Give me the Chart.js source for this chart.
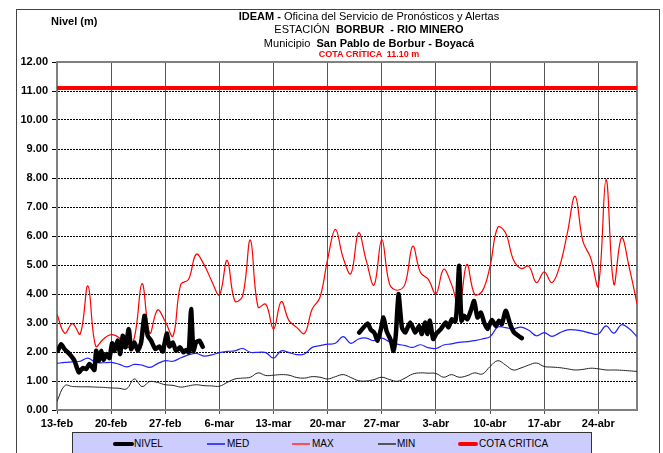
<!DOCTYPE html>
<html>
<head>
<meta charset="utf-8">
<script src="https://cdn.jsdelivr.net/npm/chart.js@4.4.1/dist/chart.umd.min.js"></script>
<style>
  body { margin: 0; background: #fff; font-family: "Liberation Sans", Arial, sans-serif; }
  #wrap { position: relative; width: 663px; height: 453px; overflow: hidden; }
  #marco { position: absolute; left: 16px; top: 9px; width: 644px; height: 470px; border: 1px solid #444; box-sizing: border-box; }
  #grafico { position: absolute; left: 0; top: 0; }
  .t { position: absolute; left: 169px; width: 400px; text-align: center; white-space: pre; color: #000; }
  #ylab { position: absolute; left: 51px; top: 15px; font-size: 11px; font-weight: bold; }
  #leyenda { position: absolute; left: 72px; top: 432px; width: 520px; height: 30px; background: #ccccff; border: 1px solid #333; box-sizing: border-box; }
  .lin { position: absolute; }
  .lt { position: absolute; top: 438px; font-size: 10px; line-height: 12px; }
</style>
</head>
<body>
<div id="wrap">
  <div id="marco"></div>
  <canvas id="grafico" width="663" height="453"></canvas>
  <div id="ylab">Nivel (m)</div>
  <div class="t" style="top:10px;font-size:11px;line-height:13px;"><b>IDEAM -</b> Oficina del Servicio de Pronósticos y Alertas</div>
  <div class="t" style="top:23px;font-size:11px;line-height:13px;">ESTACIÓN  <b>BORBUR  - RIO MINERO</b></div>
  <div class="t" style="top:37px;font-size:11px;line-height:13px;">Municipio  <b>San Pablo de Borbur - Boyacá</b></div>
  <div class="t" style="top:49px;font-size:9px;line-height:11px;color:#ff0000;font-weight:bold;">COTA CRÍTICA  11.10 m</div>
  <div id="leyenda"></div>
  <div class="lin" style="left:113px;top:442px;width:21px;height:4px;background:#000;border-radius:2px;"></div>
  <div class="lt" style="left:134px;">NIVEL</div>
  <div class="lin" style="left:207px;top:443px;width:18px;height:2px;background:#4444ff;"></div>
  <div class="lt" style="left:227px;">MED</div>
  <div class="lin" style="left:292px;top:443px;width:18px;height:2px;background:#ff5050;"></div>
  <div class="lt" style="left:312px;">MAX</div>
  <div class="lin" style="left:378px;top:443px;width:18px;height:2px;background:#555;"></div>
  <div class="lt" style="left:397px;">MIN</div>
  <div class="lin" style="left:458px;top:442px;width:20px;height:4px;background:#ff0000;border-radius:2px;"></div>
  <div class="lt" style="left:479px;">COTA CRITICA</div>
</div>
<script>
// ejes
const fechasEje = ['13-feb', '20-feb', '27-feb', '6-mar', '13-mar', '20-mar', '27-mar', '3-abr', '10-abr', '17-abr', '24-abr'];
const diasEje = [0, 7, 14, 21, 28, 35, 42, 49, 56, 63, 70];
const diaFinal = 75;
const cotaCritica = 11.10;

// series diarias (dia 0 = 13-feb)
const maxDiario = [3.30, 2.65, 2.98, 2.62, 4.28, 2.20, 2.45, 2.60, 2.50, 2.14,
  2.49, 4.36, 2.65, 3.45, 3.05, 2.55, 4.33, 4.50, 5.37, 5.02,
  4.45, 3.97, 5.16, 3.76, 3.93, 5.86, 3.55, 3.65, 2.79, 3.74,
  3.08, 2.85, 2.64, 3.48, 3.88, 5.20, 6.23, 5.25, 4.70, 6.11,
  5.14, 4.31, 5.88, 4.34, 4.13, 4.34, 5.65, 4.74, 4.51, 4.01,
  4.85, 4.34, 3.59, 5.02, 3.99, 4.10, 4.96, 6.30, 6.11, 5.19,
  4.88, 4.96, 4.39, 4.76, 4.39, 4.96, 6.11, 7.37, 5.82, 5.25,
  4.28, 7.95, 4.34, 5.94, 4.91, 3.67];
const medDiario = [1.61, 1.64, 1.66, 1.68, 1.79, 1.64, 1.63, 1.64, 1.58, 1.49,
  1.57, 1.55, 1.47, 1.60, 1.70, 1.68, 1.80, 1.90, 1.95, 1.86,
  1.90, 1.98, 2.02, 2.04, 2.12, 1.99, 1.99, 1.98, 1.79, 2.04,
  1.98, 1.91, 1.93, 2.16, 2.22, 2.27, 2.30, 2.53, 2.30, 2.45,
  2.48, 2.39, 2.48, 2.35, 2.27, 2.22, 2.16, 2.25, 2.15, 2.12,
  2.24, 2.28, 2.33, 2.36, 2.39, 2.45, 2.53, 2.86, 2.84, 2.80,
  2.86, 2.75, 2.56, 2.67, 2.54, 2.66, 2.76, 2.76, 2.72, 2.65,
  2.62, 2.90, 2.65, 2.94, 2.80, 2.53];
const minDiario = [0.30, 0.84, 0.81, 0.80, 0.80, 0.79, 0.78, 0.76, 0.75, 0.73,
  1.07, 0.81, 0.98, 0.95, 0.87, 0.85, 0.79, 0.83, 0.87, 0.84,
  0.83, 0.82, 0.95, 1.07, 1.10, 1.13, 1.28, 1.19, 1.20, 1.22,
  1.20, 1.12, 1.10, 1.15, 1.13, 1.07, 1.15, 1.22, 1.12, 1.01,
  1.00, 1.05, 1.13, 1.05, 0.99, 1.10, 1.24, 1.28, 1.27, 1.26,
  1.13, 1.22, 1.13, 1.18, 1.28, 1.24, 1.50, 1.70, 1.55, 1.38,
  1.45, 1.55, 1.62, 1.50, 1.48, 1.46, 1.42, 1.38, 1.40, 1.44,
  1.42, 1.38, 1.38, 1.37, 1.35, 1.33];

// nivel observado (varias lecturas por dia, con un hueco sin datos)
const nivelDias = [0.10, 0.54, 0.97, 1.61, 2.26, 2.82, 3.33, 3.77, 4.20, 4.55,
  4.84, 5.06, 5.40, 5.71, 6.01, 6.43, 6.78, 7.13, 7.43, 7.86,
  8.17, 8.50, 8.85, 9.28, 9.59, 10.01, 10.44, 10.88, 11.30, 11.73,
  12.17, 12.73, 13.24, 13.67, 14.19, 14.53, 14.96, 15.40, 15.92, 16.34,
  16.69, 17.03, 17.34, 17.64, 17.98, 18.41, 18.84,
  29.00,
  39.08, 40.16, 40.59, 41.02, 41.45, 41.89, 42.22, 42.61, 43.18, 43.51,
  43.82, 44.16, 44.60, 45.03, 45.67, 46.32, 46.83, 47.18, 47.61, 47.91,
  48.22, 48.64, 49.07, 49.64, 50.28, 50.62, 51.06, 51.49, 51.71, 52.00,
  52.30, 52.65, 53.07, 53.51, 53.94, 54.37, 54.81, 55.23, 55.66, 56.23,
  56.74, 57.17, 57.52, 58.03, 58.59, 59.11, 60.10];
const nivelValores = [2.04, 2.27, 2.10, 1.93, 1.70, 1.30, 1.45, 1.41, 1.59, 1.47,
  1.38, 2.04, 1.70, 2.04, 1.73, 1.93, 1.79, 2.30, 2.04, 2.39,
  1.93, 2.56, 2.16, 2.79, 2.10, 2.33, 2.04, 2.33, 3.25, 2.56,
  2.39, 2.10, 2.19, 2.02, 2.64, 2.19, 2.33, 2.04, 2.16, 1.99,
  2.07, 1.99, 3.48, 2.04, 2.33, 2.39, 2.18,
  null,
  2.67, 2.98, 2.76, 2.67, 2.39, 2.79, 3.19, 2.73, 2.39, 2.04,
  2.62, 4.00, 2.85, 2.67, 3.02, 2.67, 2.90, 2.62, 3.02, 2.62,
  3.08, 2.45, 2.64, 2.79, 3.02, 2.85, 3.13, 3.05, 3.53, 4.97,
  3.08, 3.25, 3.13, 3.42, 3.76, 3.19, 3.36, 3.02, 2.79, 3.10,
  2.90, 3.08, 2.96, 3.42, 2.96, 2.67, 2.48];

const fuente = '"Liberation Sans", Arial, sans-serif';
const diario = arr => arr.map((v, i) => ({ x: i, y: v }));
const nivelPts = nivelDias.map((d, i) => ({ x: d, y: nivelValores[i] }));

// borde gris arriba y a la derecha del area de trazado
const marcoPlot = {
  id: 'marcoPlot',
  beforeDatasetsDraw(chart) {
    const a = chart.chartArea, c = chart.ctx;
    c.save();
    c.strokeStyle = '#808080';
    c.lineWidth = 2;
    c.beginPath();
    c.moveTo(a.left, a.top);
    c.lineTo(a.right, a.top);
    c.lineTo(a.right, a.bottom);
    c.stroke();
    c.restore();
  }
};

const ctx = document.getElementById('grafico').getContext('2d');
new Chart(ctx, {
  type: 'line',
  data: {
    datasets: [
      { label: 'NIVEL', data: nivelPts, borderColor: '#000', borderWidth: 4.5, pointRadius: 0, tension: 0.2, spanGaps: false, borderCapStyle: 'round', borderJoinStyle: 'round' },
      { label: 'MED', data: diario(medDiario), borderColor: '#2222ff', borderWidth: 1.2, pointRadius: 0, tension: 0.4 },
      { label: 'MAX', data: diario(maxDiario), borderColor: '#ff0000', borderWidth: 1.2, pointRadius: 0, tension: 0.4 },
      { label: 'MIN', data: diario(minDiario), borderColor: '#222', borderWidth: 1, pointRadius: 0, tension: 0.4 },
      { label: 'COTA CRITICA', data: [{ x: 0, y: cotaCritica }, { x: diaFinal, y: cotaCritica }], borderColor: '#ff0000', borderWidth: 4, pointRadius: 0, tension: 0 }
    ]
  },
  options: {
    responsive: false,
    animation: false,
    layout: { padding: { left: 0, top: 62, right: 26, bottom: 25 } },
    plugins: { legend: { display: false }, tooltip: { enabled: false } },
    scales: {
      x: {
        type: 'linear', min: 0, max: diaFinal,
        afterBuildTicks: s => { s.ticks = diasEje.map(v => ({ value: v })); },
        afterFit: s => { s.height = 18; },
        ticks: {
          autoSkip: false, maxRotation: 0, padding: 3, color: '#000',
          font: { family: fuente, size: 11, weight: 'bold' },
          callback: v => fechasEje[diasEje.indexOf(v)]
        },
        grid: { color: '#555', lineWidth: 1, tickLength: 4, tickColor: '#555' },
        border: { color: '#808080', width: 2 }
      },
      y: {
        min: 0, max: 12,
        afterFit: s => { s.width = 57; },
        ticks: {
          stepSize: 1, padding: 4, color: '#000',
          font: { family: fuente, size: 11, weight: 'bold' },
          callback: v => v.toFixed(2)
        },
        grid: { color: '#000', lineWidth: 1, tickLength: 5, tickColor: '#000' },
        border: { color: '#808080', width: 2, dash: [2, 1] }
      }
    }
  },
  plugins: [marcoPlot]
});
</script>
</body>
</html>
